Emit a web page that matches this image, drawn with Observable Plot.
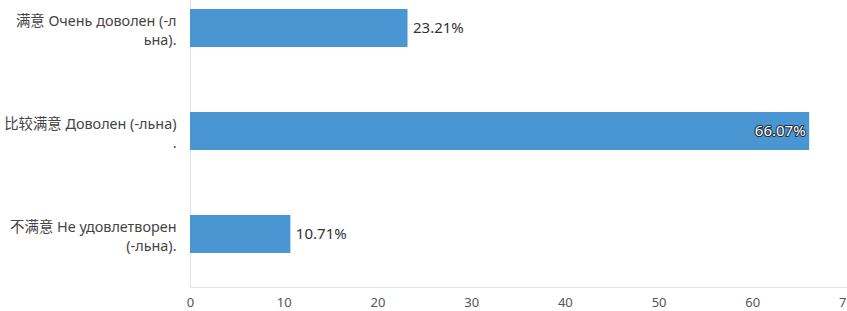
<!DOCTYPE html>
<html>
<head>
<meta charset="utf-8">
<script src="https://cdn.jsdelivr.net/npm/d3@7"></script>
<script src="https://cdn.jsdelivr.net/npm/@observablehq/plot@0.6"></script>
<style>
  html, body { margin: 0; padding: 0; background: #fff; }
  svg { display: block; }
</style>
</head>
<body>
<div id="chart"></div>
<script>
const categories = [
  "满意 Очень доволен (-л\nьна).",
  "比较满意 Доволен (-льна)\n.",
  "不满意 Не удовлетворен\n(-льна)."
];
const values = [23.21, 66.07, 10.71];
const valueLabels = ["23.21%", "66.07%", "10.71%"];
const xTicks = [0, 10, 20, 30, 40, 50, 60, 70];

const data = categories.map((c, i) => ({cat: c, value: values[i], label: valueLabels[i]}));
const inside = data.filter(d => d.value > 50);
const outside = data.filter(d => d.value <= 50);

const font = "'Noto Sans', 'Noto Sans CJK SC', sans-serif";

const chart = Plot.plot({
  width: 847,
  height: 311,
  marginLeft: 190,
  marginRight: 1,
  marginTop: 0,
  marginBottom: 24,
  style: {fontFamily: font, background: "#fff"},
  x: {domain: [0, 70], ticks: xTicks, label: null},
  y: {domain: categories, range: [-58, 320], padding: 0.635, label: null},
  marks: [
    Plot.frame({anchor: "bottom", stroke: "#e3e3e3"}),
    Plot.ruleX([0], {stroke: "#e3e3e3"}),
    Plot.barX(data, {x: "value", y: "cat", fill: "#4a96d3"}),
    Plot.text(outside, {x: "value", y: "cat", text: "label", textAnchor: "start", dx: 5, fill: "#333", fontSize: 15}),
    Plot.text(inside, {x: "value", y: "cat", text: "label", textAnchor: "end", dx: -4, fill: "#fff", stroke: "#1f2f3f", strokeWidth: 2.2, fontSize: 15}),
    Plot.text(data, {x: 0, y: "cat", text: "cat", textAnchor: "end", dx: -14, dy: 1, fill: "#444", fontSize: 14.4, lineHeight: 1.3}),
    Plot.axisX({ticks: xTicks, tickSize: 0, tickPadding: 10, fontSize: 13, color: "#555", label: null}),
    Plot.axisY({ticks: [], label: null})
  ]
});
document.getElementById("chart").appendChild(chart);
</script>
</body>
</html>
